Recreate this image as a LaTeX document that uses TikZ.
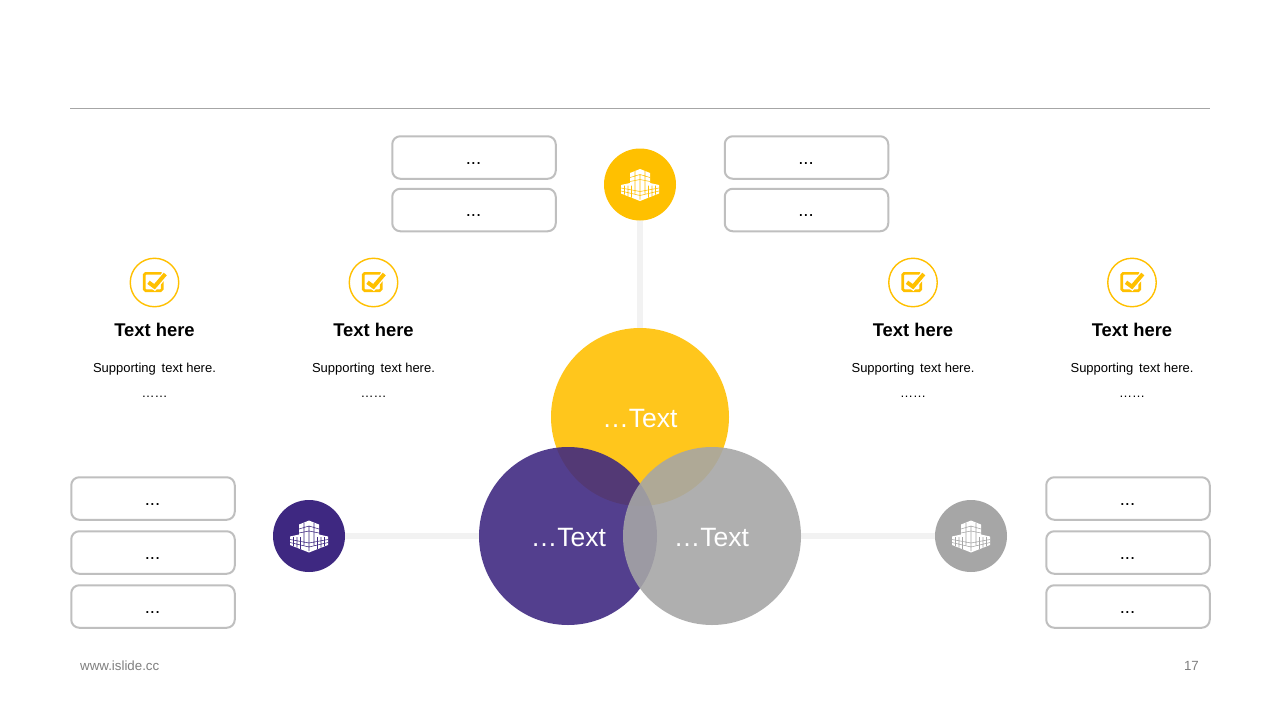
\documentclass[tikz,border=0pt]{standalone}
\usepackage{fontspec}
\usetikzlibrary{backgrounds}
\setmainfont{Liberation Sans}
\definecolor{gold}{HTML}{FFC000}
\definecolor{violet}{HTML}{3E2881}
\definecolor{midgrey}{HTML}{A6A6A6}
\definecolor{boxline}{HTML}{BFBFBF}
\definecolor{linkgrey}{HTML}{F2F2F2}
\definecolor{footgrey}{HTML}{7F7F7F}
\tikzset{
  dotbox/.style={draw=boxline,line width=2pt,rounded corners=8pt,minimum width=163.5pt,minimum height=42.5pt,inner sep=0pt},
  dotlabel/.style={inner sep=0pt,font=\fontsize{18.5}{22}\selectfont,text=black},
  venn/.style={circle,minimum size=178pt,inner sep=0pt,fill opacity=.89,text opacity=1},
  vennlabel/.style={inner sep=0pt,text=white,font=\fontsize{26.5}{30}\selectfont},
  badge/.style={circle,minimum size=72pt,inner sep=0pt},
  ring/.style={circle,draw=gold,line width=1.4pt,minimum size=48.5pt,inner sep=0pt},
  link/.style={draw=linkgrey,line width=5.5pt},
  heading/.style={font=\fontsize{18.4}{22}\bfseries\selectfont,text=black,inner sep=0pt},
  support/.style={font=\fontsize{13}{16}\selectfont,text=black,inner sep=0pt},
  foot/.style={font=\fontsize{13.3}{16}\selectfont,text=footgrey,inner sep=0pt}
}
\newcommand{\bldg}[3]{%
  \begin{scope}[shift={(#1,#2)}]
    \fill[white,line join=round] (0,-15.5)--(10,-11.5)--(10,-1.5)--(19,0.5)--(19,9)--(0,16.5)--(-19,9)--(-19,0.5)--(-10,-1.5)--(-10,-11.5)--cycle;
    \draw[#3,line width=.55pt]
      (-10,-7)--(0,-10)--(10,-7) (-10,-3)--(0,-5)--(10,-3)
      (-19,3.5)--(0,7)--(19,3.5) (-19,6.5)--(0,11)--(19,6.5)
      (-5,-13.5)--(-5,9) (5,-13.5)--(5,9) (0,-10)--(0,15)
      (-15.5,1)--(-15.5,10) (-12,1)--(-12,11.5) (-8.5,1)--(-8.5,13) (15.5,1)--(15.5,10) (12,1)--(12,11.5) (8.5,1)--(8.5,13);
  \end{scope}}
\newcommand{\tick}[2]{%
  \begin{scope}[shift={(#1,#2)}]
    \draw[gold,line width=2.6pt,rounded corners=1.5pt] (-10.3,-8.7) rectangle (7.7,8.7);
    \draw[white,line width=6.5pt] (-5.5,0.7)--(0,4.7)--(11,-8);
    \draw[gold,line width=4pt] (-6,0.3)--(0,4.7)--(10.8,-8);
  \end{scope}}
\begin{document}
\begin{tikzpicture}[x=1pt,y=-1pt]
\useasboundingbox (0,0) rectangle (1280,720);
\coordinate (ruleL) at (70,108.5);
\coordinate (ruleR) at (1210,108.5);
\draw[midgrey,line width=.9pt] (ruleL)--(ruleR);

% venn circles
\node[venn,fill=gold] (vtop) at (640,417) {};
\node[venn,fill=violet] (vleft) at (568,536) {};
\node[venn,fill=midgrey] (vright) at (712,536) {};
\node[vennlabel] (vtoptext) at (640,418.5) {…Text};
\node[vennlabel] (vlefttext) at (568.5,537.5) {…Text};
\node[vennlabel] (vrighttext) at (711.5,537.5) {…Text};

% badges
\node[badge,fill=gold] (btop) at (640,184.5) {};
\node[badge,fill=violet] (bleft) at (309,536) {};
\node[badge,fill=midgrey] (bright) at (971,536) {};
\begin{scope}[on background layer]
  \fill[white] (0,0) rectangle (1280,720);
  \draw[link] (btop.center)--(vtop.north);
  \draw[link] (bleft.center)--(vleft.west);
  \draw[link] (bright.center)--(vright.east);
\end{scope}
\bldg{640}{184.5}{gold}
\bldg{309}{536}{violet}
\bldg{971}{536}{midgrey}

% boxes
\foreach \nm/\cx/\cy in {t1/474/157.5,t2/474/210,t3/806.5/157.5,t4/806.5/210,l1/153/498.5,l2/153/552.5,l3/153/606.5,r1/1128/498.5,r2/1128/552.5,r3/1128/606.5}{
  \node[dotbox] (\nm) at (\cx,\cy) {};
  \node[dotlabel] (\nm text) at (\cx-.5,\cy+6) {...};
}

% text columns
\foreach \cx/\id in {154.5/a,373.5/b,913/c,1132/d}{
  \node[ring] (ring\id) at (\cx,282.5) {};
  \tick{\cx}{282}
  \node[heading] (head\id) at (\cx,330.3) {Text here};
  \node[support] (sup\id) at (\cx,369) {Supporting\, text here.};
  \node[support] (dots\id) at (\cx,396.5) {……};
}

% footer
\node[foot,anchor=west] (site) at (80,666) {www.islide.cc};
\node[foot,anchor=east] (page) at (1199,666) {17};
\end{tikzpicture}
\end{document}
